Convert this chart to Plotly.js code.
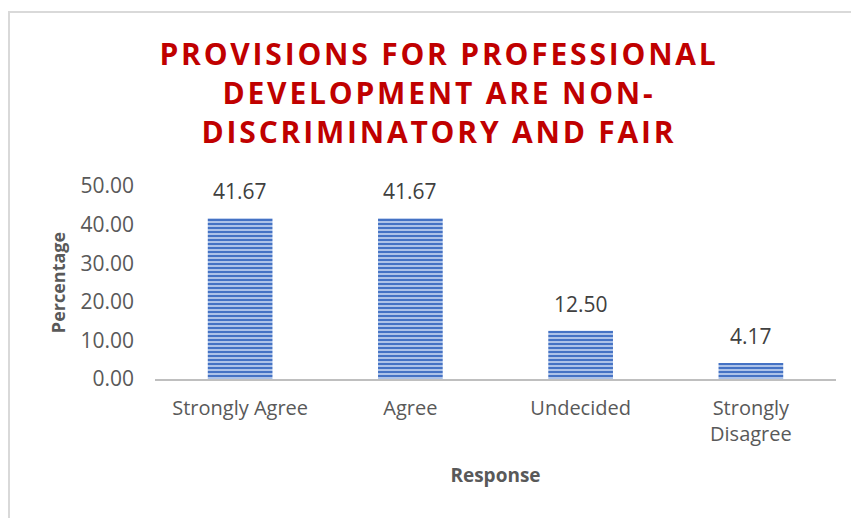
<!DOCTYPE html>
<html>
<head>
<meta charset="utf-8">
<script src="https://cdn.plot.ly/plotly-3.0.1.min.js"></script>
<style>
  html, body { margin: 0; padding: 0; background: #fff; overflow: hidden; }
  #chart { position: absolute; left: 0; top: 0; width: 851px; height: 518px; }
  #frame { position: absolute; left: 8px; top: 11px; width: 900px; height: 600px;
           border-left: 2px solid #d9d9d9; border-top: 2px solid #d9d9d9; pointer-events: none; }
  .gtitle { letter-spacing: 2.8px; }
</style>
</head>
<body>
<div id="chart"></div>
<div id="frame"></div>
<script>
const categories = ["Strongly Agree", "Agree", "Undecided", "Strongly<br>Disagree"];
const percentages = [41.67, 41.67, 12.50, 4.17];
const yTickValues = [0, 10, 20, 30, 40, 50];

const trace = {
  type: 'bar',
  x: categories,
  y: percentages,
  marker: {
    color: '#b8cbec',
    line: { width: 0 },
    pattern: { shape: '-', size: 4, solidity: 0.55, fgcolor: '#4472c4', bgcolor: '#b8cbec', fillmode: 'replace' }
  },
  hoverinfo: 'none'
};

const annotations = categories.map((c, i) => ({
  x: c, y: percentages[i], xref: 'x', yref: 'y',
  text: percentages[i].toFixed(2), showarrow: false,
  yanchor: 'bottom', yshift: 11,
  font: { family: 'Open Sans', size: 21, color: '#404040' }
}));

const layout = {
  width: 851, height: 518,
  margin: { l: 155, r: 15, t: 186, b: 139, pad: 0 },
  paper_bgcolor: '#ffffff', plot_bgcolor: '#ffffff',
  showlegend: false,
  bargap: 0.62,
  title: {
    text: 'PROVISIONS FOR PROFESSIONAL<br>DEVELOPMENT ARE NON-<br>DISCRIMINATORY AND FAIR',
    font: { family: 'Open Sans', size: 30, color: '#c00000', weight: 'bold' },
    x: 439 / 851, xanchor: 'center', xref: 'container',
    y: 1 - 65 / 518, yanchor: 'top', yref: 'container'
  },
  xaxis: {
    type: 'category',
    showline: true, linecolor: '#bfbfbf', linewidth: 2,
    showgrid: false, zeroline: false, ticks: '',
    ticklabelstandoff: 10,
    tickfont: { family: 'Open Sans', size: 20, color: '#595959' },
    title: { text: 'Response', standoff: 23, font: { family: 'Open Sans', size: 19, color: '#595959', weight: 'bold' } }
  },
  yaxis: {
    range: [0, 50], tickvals: yTickValues, tickformat: '.2f',
    showline: false, showgrid: false, zeroline: false, ticks: '',
    ticklabelstandoff: 20,
    tickfont: { family: 'Open Sans', size: 21, color: '#595959' },
    title: { text: 'Percentage', standoff: 10, font: { family: 'Open Sans', size: 18, color: '#595959', weight: 'bold' } }
  },
  annotations: annotations
};

Plotly.newPlot('chart', [trace], layout, { displayModeBar: false, staticPlot: true });
</script>
</body>
</html>
